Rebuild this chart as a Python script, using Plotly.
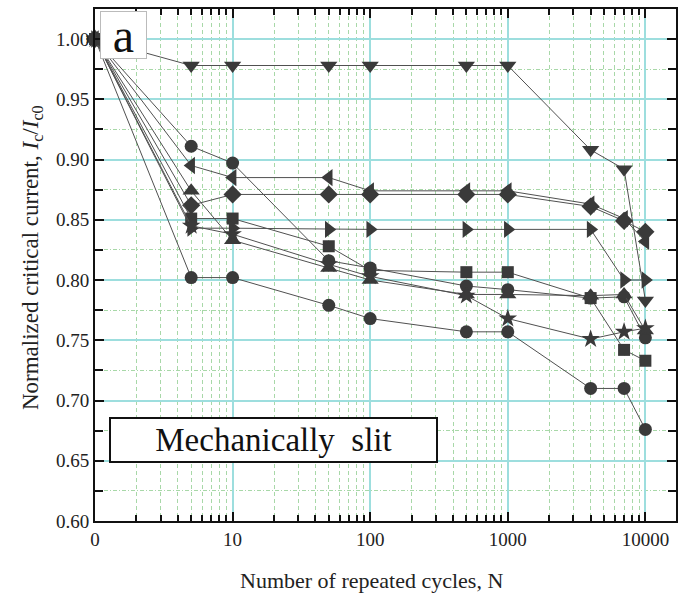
import plotly.graph_objects as go

# ---- data ----
cycles = [1, 5, 10, 50, 100, 500, 1000, 4000, 7000, 10000]
tri_down = [1.0, 0.978, 0.978, 0.978, 0.978, 0.978, 0.978, 0.908, 0.892, 0.783]
tri_left = [1.0, 0.895, 0.885, 0.885, 0.874, 0.874, 0.874, 0.863, 0.851, 0.832]
diamond = [1.0, 0.862, 0.871, 0.871, 0.871, 0.871, 0.871, 0.861, 0.849, 0.840]
circle_up = [1.0, 0.911, 0.897, 0.816, 0.810, 0.795, 0.792, 0.785, 0.786, 0.752]
square = [1.0, 0.851, 0.851, 0.828, 0.808, 0.8065, 0.8065, 0.785, 0.742, 0.733]
tri_right = [1.0, 0.843, 0.843, 0.842, 0.842, 0.842, 0.842, 0.842, 0.800, 0.800]
tri_up = [1.0, 0.874, 0.833, 0.810, 0.800, 0.788, 0.788, 0.787, 0.788, 0.758]
star = [1.0, 0.845, 0.838, 0.813, 0.803, 0.787, 0.768, 0.751, 0.757, 0.760]
circle_low = [1.0, 0.802, 0.802, 0.779, 0.768, 0.757, 0.757, 0.710, 0.710, 0.676]

series = [
    ("triangle-down", 15, tri_down),
    ("triangle-left", 15, tri_left),
    ("diamond", 14, diamond),
    ("circle", 13, circle_up),
    ("square", 12, square),
    ("triangle-right", 15, tri_right),
    ("triangle-up", 15, tri_up),
    ("star", 14, star),
    ("circle", 13, circle_low),
]

x_tick_vals = [1, 10, 100, 1000, 10000]
x_tick_text = ["0", "10", "100", "1000", "10000"]
x_minor_vals = [m * d for d in [1, 10, 100, 1000, 10000] for m in range(2, 10)]
y_tick_vals = [0.60, 0.65, 0.70, 0.75, 0.80, 0.85, 0.90, 0.95, 1.00]
y_tick_text = ["0.60", "0.65", "0.70", "0.75", "0.80", "0.85", "0.90", "0.95", "1.00"]

W, H = 679, 599
L, R, T, B = 95, 678, 9.3, 521  # plot area in pixels


def px_x(p):
    return (p - L) / (R - L)


def px_y(p):
    return (B - p) / (B - T)


FONT = "Liberation Serif"
MARK = "#3a3a3a"

fig = go.Figure()
for sym, size, vals in series:
    fig.add_trace(go.Scatter(
        x=cycles, y=vals, mode="lines+markers",
        line=dict(color="#505050", width=1),
        marker=dict(symbol=sym, size=size, color=MARK, line=dict(width=0)),
        showlegend=False, cliponaxis=False,
    ))

fig.update_layout(
    width=W, height=H,
    margin=dict(l=L, r=W - R, t=T, b=H - B),
    paper_bgcolor="white", plot_bgcolor="white",
    font=dict(family=FONT, color="#222222", size=18),
    xaxis=dict(
        type="log", range=[0, 4.2225],
        tickmode="array", tickvals=x_tick_vals, ticktext=x_tick_text,
        ticks="inside", ticklen=9, tickwidth=2, tickcolor="#111",
        showline=True, linecolor="#111", linewidth=2, mirror="ticks",
        showgrid=True, gridcolor="#9ddede", gridwidth=1.5,
        tickfont=dict(size=19),
        minor=dict(tickmode="array", tickvals=x_minor_vals, ticks="inside",
                   ticklen=6, tickwidth=1.5, tickcolor="#111",
                   showgrid=True, gridcolor="#a8d8a8", gridwidth=1, griddash="4px,3px"),
        zeroline=False,
    ),
    yaxis=dict(
        range=[0.6, 1.0249],
        tickmode="array", tickvals=y_tick_vals, ticktext=y_tick_text,
        ticks="inside", ticklen=9, tickwidth=2, tickcolor="#111",
        showline=True, linecolor="#111", linewidth=2, mirror="ticks",
        showgrid=True, gridcolor="#9ddede", gridwidth=1.5,
        tickfont=dict(size=19),
        minor=dict(dtick=0.025, ticks="inside", ticklen=8, tickwidth=1.5, tickcolor="#111",
                   showgrid=True, gridcolor="#a8d8a8", gridwidth=1, griddash="4px,2px,1px,2px"),
        zeroline=False,
    ),
)

annotations = [
    dict(text="a", x=px_x(123.3), y=px_y(35), xref="paper", yref="paper",
         showarrow=False, font=dict(size=48, color="#111"),
         bgcolor="white", bordercolor="#bbbbbb", borderwidth=1,
         width=43, height=44, xanchor="center", yanchor="middle"),
    dict(text="Mechanically&nbsp; slit", x=px_x(274.5), y=px_y(440), xref="paper", yref="paper",
         showarrow=False, font=dict(size=33, color="#111"),
         bgcolor="white", bordercolor="#111", borderwidth=2,
         width=323, height=40, xanchor="center", yanchor="middle"),
    dict(text="Number of repeated cycles, N", x=px_x(372), y=px_y(580), xref="paper", yref="paper",
         showarrow=False, font=dict(size=22, color="#222"),
         xanchor="center", yanchor="middle"),
    dict(text="Normalized critical current, <i>I</i><sub>c</sub>/<i>I</i><sub>c0</sub>",
         x=px_x(32), y=px_y(258), xref="paper", yref="paper", textangle=-90,
         showarrow=False, font=dict(size=23, color="#222"),
         xanchor="center", yanchor="middle"),
]
fig.update_layout(annotations=annotations)

fig.write_html("out.html")
